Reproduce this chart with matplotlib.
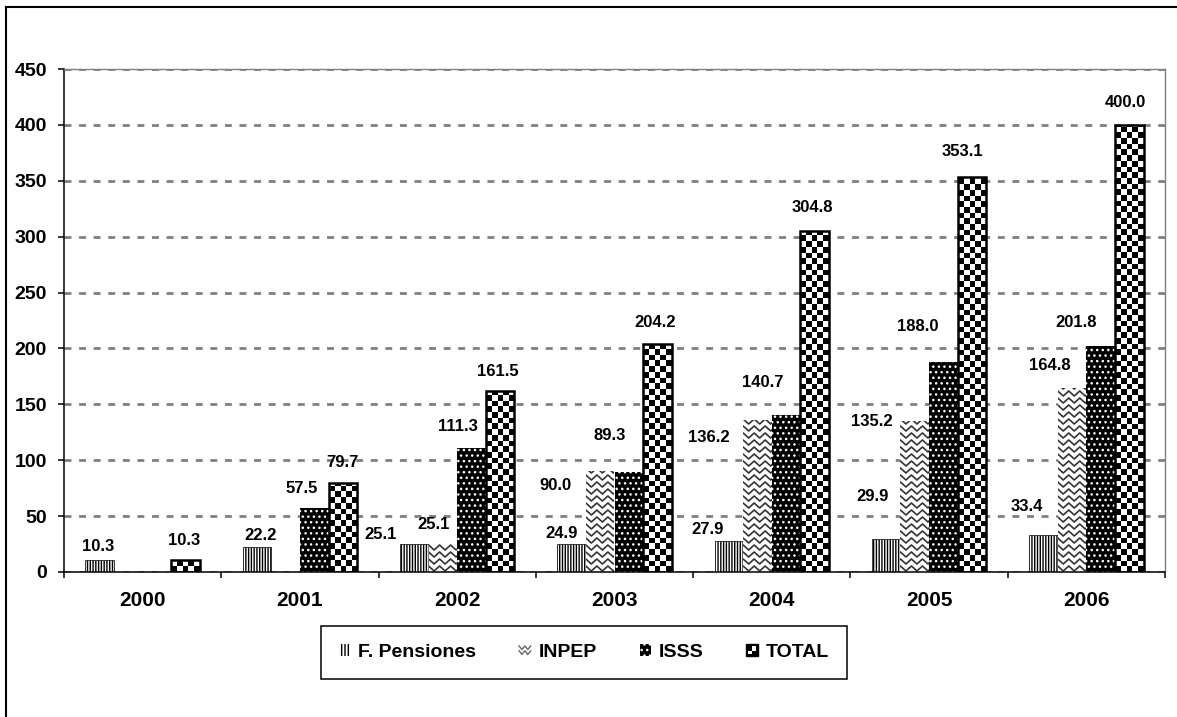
"""Pension payments by institution, 2000-2006: grouped bars with Excel-style fills."""

import matplotlib

matplotlib.use("Agg")

import matplotlib.pyplot as plt
import numpy as np
from matplotlib.lines import Line2D
from matplotlib.patches import Patch, Rectangle

plt.rcParams["font.family"] = ["Liberation Sans", "DejaVu Sans"]
plt.rcParams["hatch.linewidth"] = 1.0

NAN = float("nan")
YEARS = ["2000", "2001", "2002", "2003", "2004", "2005", "2006"]
SERIES = ["F. Pensiones", "INPEP", "ISSS", "TOTAL"]
PENSIONES = [10.3, 22.2, 25.1, 24.9, 27.9, 29.9, 33.4]
INPEP = [NAN, NAN, 25.1, 90.0, 136.2, 135.2, 164.8]
ISSS = [NAN, 57.5, 111.3, 89.3, 140.7, 188.0, 201.8]
TOTAL = [10.3, 79.7, 161.5, 204.2, 304.8, 353.1, 400.0]

# The original labels were dragged around by hand; offsets (pixels) of each
# label centre from the top-centre of its bar, dx to the right, dy upwards.
LABEL_OFFSETS = [
    [(-2, 14), (4, 12), (-34, 9), (-10, 11), (-21, 11), (-14, 42), (-17, 28)],
    [None, None, (-9, 19), (-45, -14), (-49, -18), (-43, -1), (-22, 22)],
    [None, (-13, 19), (-14, 21), (-19, 37), (-23, 32), (-26, 35), (-25, 24)],
    [(-1, 20), (0, 20), (-2, 20), (-2, 21), (-2, 24), (-10, 26), (-4, 22)],
]

W, H = 1177, 717
GRID = "#808080"
WAVE = "#333333"

fig = plt.figure(figsize=(W / 100, H / 100), dpi=100, facecolor="white")
ax = fig.add_axes([64 / W, 1 - 572 / H, 1101 / W, 503 / H])
ax.set_xlim(-0.5, len(YEARS) - 0.5)
ax.set_ylim(0, 450)
ax.set_axisbelow(True)

x = np.arange(len(YEARS))
width = 0.182
offsets = [(k - 1.5) * width for k in range(4)]

origin = ax.transData.transform((0, 0))
ppx, ppy = ax.transData.transform((1, 1)) - origin  # pixels per data unit

# F. Pensiones: fine vertical stripes
bars_fp = ax.bar(x + offsets[0], PENSIONES, width, facecolor="white",
                 edgecolor="black", linewidth=0.5, hatch="||||||", zorder=2)

# INPEP: white with grey zig-zag rows
bars_inpep = ax.bar(x + offsets[1], INPEP, width, facecolor="white",
                    edgecolor="none", zorder=2)
period, amp, gap = 11 / ppx, 2.5 / ppy, 7 / ppy
for rect in bars_inpep:
    h = rect.get_height()
    if np.isnan(h):
        continue
    x0, w = rect.get_x(), rect.get_width()
    xs = np.arange(x0 - period, x0 + w + period, period / 2)
    wave = np.where(np.arange(len(xs)) % 2 == 0, amp, -amp)
    for y0 in np.arange(gap / 2, h + gap, gap):
        (line,) = ax.plot(xs, y0 + wave, color=WAVE, linewidth=1.2, zorder=2.5)
        line.set_clip_path(rect)

# ISSS: black with white dots
bars_isss = ax.bar(x + offsets[2], ISSS, width, facecolor="black",
                   edgecolor="white", linewidth=0, hatch="...", zorder=2)

# TOTAL: checkerboard with heavy outline
bars_total = ax.bar(x + offsets[3], TOTAL, width, facecolor="white",
                    edgecolor="none", zorder=2)
cell = 5.7
for rect in bars_total:
    x0, w, h = rect.get_x(), rect.get_width(), rect.get_height()
    nx = max(1, int(round(w * ppx / cell)))
    ny = int(np.ceil(h * ppy / cell))
    board = (np.add.outer(np.arange(ny), np.arange(nx)) % 2).astype(float)
    img = ax.imshow(board, cmap="gray", vmin=0, vmax=1, origin="lower",
                    extent=(x0, x0 + w, 0, ny * cell / ppy), aspect="auto",
                    interpolation="nearest", zorder=2.5)
    img.set_clip_path(rect)
ax.bar(x + offsets[3], TOTAL, width, fill=False, edgecolor="black",
       linewidth=1.8, zorder=3)
ax.set_xlim(-0.5, len(YEARS) - 0.5)
ax.set_ylim(0, 450)

# data labels
for bars, values, label_offsets in zip(
    [bars_fp, bars_inpep, bars_isss, bars_total],
    [PENSIONES, INPEP, ISSS, TOTAL],
    LABEL_OFFSETS,
):
    for rect, value, off in zip(bars, values, label_offsets):
        if off is None or np.isnan(value):
            continue
        ax.annotate(f"{value:.1f}", xy=(rect.get_x() + rect.get_width() / 2, value),
                    xytext=off, textcoords="offset pixels", ha="center",
                    va="center", fontsize=12, fontweight="bold", zorder=4)

# axes styling
ax.yaxis.grid(True, color=GRID, linestyle=(0, (2.5, 2.75)), linewidth=2.0)
ax.set_yticks(range(0, 451, 50))
ax.tick_params(axis="y", length=4.3, width=1.1, pad=8, labelsize=14)
ax.set_xticks(np.arange(-0.5, len(YEARS)), [""] * (len(YEARS) + 1))
ax.set_xticks(x, YEARS, minor=True)
ax.tick_params(axis="x", which="major", length=4.3, width=1.1)
ax.tick_params(axis="x", which="minor", length=0, pad=14, labelsize=15)
for lab in ax.get_xticklabels(minor=True) + ax.get_yticklabels():
    lab.set_fontweight("bold")
for side in ("left", "bottom"):
    ax.spines[side].set_linewidth(1.1)
for side in ("top", "right"):
    ax.spines[side].set_color(GRID)
    ax.spines[side].set_linewidth(1.0)


class ZigzagHandler:
    def legend_artist(self, legend, orig_handle, fontsize, handlebox):
        x0, y0 = -handlebox.xdescent, -handlebox.ydescent
        w, h = handlebox.width, handlebox.height
        tr = handlebox.get_transform()
        handlebox.add_artist(Rectangle((x0, y0), w, h, facecolor="white",
                                       edgecolor="none", transform=tr))
        xs = np.linspace(x0, x0 + w, 5)
        for frac in (0.3, 0.7):
            ys = y0 + h * frac + np.array([1, -1, 1, -1, 1]) * h * 0.15
            handlebox.add_artist(Line2D(xs, ys, color="#666666", linewidth=1.0,
                                        transform=tr))
        return handlebox


class CheckerHandler:
    def legend_artist(self, legend, orig_handle, fontsize, handlebox):
        x0, y0 = -handlebox.xdescent, -handlebox.ydescent
        w, h = handlebox.width, handlebox.height
        tr = handlebox.get_transform()
        handlebox.add_artist(Rectangle((x0, y0), w, h, facecolor="black",
                                       edgecolor="black", transform=tr))
        handlebox.add_artist(Rectangle((x0 + w * 0.5, y0 + h * 0.45), w * 0.35,
                                       h * 0.4, facecolor="white",
                                       edgecolor="none", transform=tr))
        handlebox.add_artist(Rectangle((x0 + w * 0.15, y0 + h * 0.15), w * 0.35,
                                       h * 0.3, facecolor="white",
                                       edgecolor="none", transform=tr))
        return handlebox


fp_proxy = Patch(facecolor="white", edgecolor="black", linewidth=0, hatch="|||||")
inpep_proxy = Patch(facecolor="white")
isss_proxy = Patch(facecolor="black", edgecolor="white", linewidth=0, hatch="...")
total_proxy = Patch(facecolor="black")
legend = fig.legend(
    [fp_proxy, inpep_proxy, isss_proxy, total_proxy], SERIES,
    loc="center", bbox_to_anchor=(584 / W, 1 - 652.5 / H), ncol=4,
    frameon=True, fancybox=False, edgecolor="black", framealpha=1,
    handlelength=0.6, handleheight=0.6, handletextpad=0.4, columnspacing=2.2,
    borderpad=0.9, prop={"size": 14, "weight": "bold"},
    handler_map={inpep_proxy: ZigzagHandler(), total_proxy: CheckerHandler()},
)
legend.get_frame().set_linewidth(1.1)

# chart-area border (left and top edges visible in the original crop)
fig.add_artist(Line2D([6 / W, 6 / W], [0, 1 - 7 / H], transform=fig.transFigure,
                      color="black", linewidth=1.5))
fig.add_artist(Line2D([6 / W, 1], [1 - 7 / H, 1 - 7 / H], transform=fig.transFigure,
                      color="black", linewidth=1.5))

fig.savefig("out.png", dpi=100, facecolor="white")
plt.close(fig)
